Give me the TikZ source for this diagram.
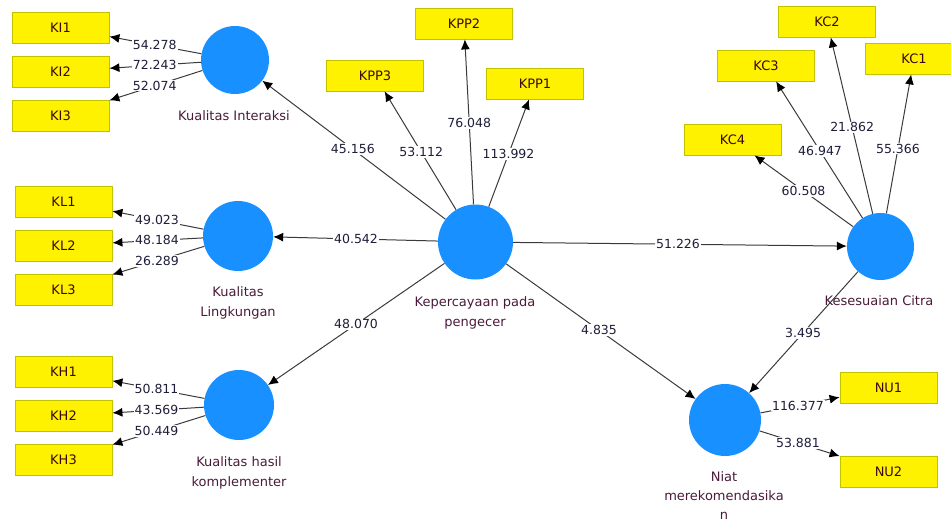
\documentclass[tikz,border=0pt]{standalone}
\usepackage{fontspec}
\setmainfont{DejaVu Sans}
\usetikzlibrary{arrows.meta}
\definecolor{cblue}{HTML}{1890FF}
\definecolor{boxline}{HTML}{C2C200}
\definecolor{boxtext}{HTML}{3A0A0A}
\definecolor{circtext}{HTML}{4A1A3A}
\definecolor{numc}{HTML}{1E1E3A}
\definecolor{linec}{HTML}{3A3A3A}
\begin{document}
\begin{tikzpicture}[x=1pt,y=-1pt,
  box/.style={draw=boxline, line width=0.8pt, fill=yellow, minimum width=97pt, minimum height=31pt, inner sep=0pt, text=boxtext, font=\fontsize{13}{15}\selectfont},
  lv/.style={circle, fill=cblue, inner sep=0pt},
  lab/.style={text=circtext, align=center, font=\fontsize{13}{20}\selectfont},
  conn/.style={draw=linec, line width=1pt, -{Latex[length=10pt,width=9pt,color=black]}},
  val/.style={fill=white, inner sep=1pt, text=numc, font=\fontsize{12.5}{14}\selectfont}
]
\useasboundingbox (0,0) rectangle (951,524);

% latent variables
\node[lv, minimum size=68pt] (ki) at (235,60) {};
\node[lv, minimum size=70pt] (kl) at (238,236) {};
\node[lv, minimum size=70pt] (kh) at (239,405) {};
\node[lv, minimum size=75pt] (kep) at (475.5,242) {};
\node[lv, minimum size=67pt] (ks) at (880.5,246.5) {};
\node[lv, minimum size=72pt] (niat) at (725,420) {};

% circle labels
\node[lab] (kilab) at (234,116) {Kualitas Interaksi};
\node[lab] (kllab) at (238,303) {Kualitas\\Lingkungan};
\node[lab] (khlab) at (239,473) {Kualitas hasil\\komplementer};
\node[lab] (keplab) at (475,313) {Kepercayaan pada\\pengecer};
\node[lab] (kslab) at (879,301) {Kesesuaian Citra};
\node[lab, font=\fontsize{13}{19}\selectfont] (niatlab) at (724,496) {Niat\\merekomendasika\\n};

% indicator boxes
\node[box] (ki1) at (60.5,27.5) {KI1};
\node[box] (ki2) at (60.5,71.5) {KI2};
\node[box] (ki3) at (60.5,116) {KI3};
\node[box] (kl1) at (63.5,201.5) {KL1};
\node[box] (kl2) at (63.5,245.5) {KL2};
\node[box] (kl3) at (63.5,289.5) {KL3};
\node[box] (kh1) at (63.5,371.5) {KH1};
\node[box] (kh2) at (63.5,416) {KH2};
\node[box] (kh3) at (63.5,460) {KH3};
\node[box] (kpp3) at (375,75.5) {KPP3};
\node[box] (kpp2) at (464,23.5) {KPP2};
\node[box] (kpp1) at (535,83.5) {KPP1};
\node[box] (kc4) at (732.5,139.5) {KC4};
\node[box] (kc3) at (766,65.5) {KC3};
\node[box] (kc2) at (827,21.5) {KC2};
\node[box] (kc1) at (914,58.5) {KC1};
\node[box] (nu1) at (888.5,387.5) {NU1};
\node[box] (nu2) at (888.5,471.5) {NU2};

% connectors
\foreach \a/\b in {ki/ki1,ki/ki2,ki/ki3,kl/kl1,kl/kl2,kl/kl3,kh/kh1,kh/kh2,kh/kh3,
  kep/kpp1,kep/kpp2,kep/kpp3,kep/ki,kep/kl,kep/kh,kep/ks,kep/niat,ks/niat,
  ks/kc1,ks/kc2,ks/kc3,ks/kc4,niat/nu1,niat/nu2}
  \draw[conn] (\a) -- (\b);

% values
\path (ki.center) -- node[val,pos=.46]{54.278} (ki1.center);
\path (ki.center) -- node[val,pos=.46]{72.243} (ki2.center);
\path (ki.center) -- node[val,pos=.46]{52.074} (ki3.center);
\path (kl.center) -- node[val,pos=.464]{49.023} (kl1.center);
\path (kl.center) -- node[val,pos=.464]{48.184} (kl2.center);
\path (kl.center) -- node[val,pos=.464]{26.289} (kl3.center);
\path (kh.center) -- node[val,pos=.47]{50.811} (kh1.center);
\path (kh.center) -- node[val,pos=.47]{43.569} (kh2.center);
\path (kh.center) -- node[val,pos=.47]{50.449} (kh3.center);
\path (kep.center) -- node[val,pos=.54]{53.112} (kpp3.center);
\path (kep.center) -- node[val,pos=.545]{76.048} (kpp2.center);
\path (kep.center) -- node[val,pos=.555]{113.992} (kpp1.center);
\path (kep.center) -- node[val,pos=.51]{45.156} (ki.center);
\path (kep.center) -- node[val,pos=.503]{40.542} (kl.center);
\path (kep.center) -- node[val,pos=.505]{48.070} (kh.center);
\path (kep.center) -- node[val,pos=.5]{51.226} (ks.center);
\path (kep.center) -- node[val,pos=.495]{4.835} (niat.center);
\path (ks.center) -- node[val,pos=.498]{3.495} (niat.center);
\path (ks.center) -- node[val,pos=.52]{60.508} (kc4.center);
\path (ks.center) -- node[val,pos=.528]{46.947} (kc3.center);
\path (ks.center) -- node[val,pos=.53]{21.862} (kc2.center);
\path (ks.center) -- node[val,pos=.52]{55.366} (kc1.center);
\path (niat.center) -- node[val,pos=.446]{116.377} (nu1.center);
\path (niat.center) -- node[val,pos=.446]{53.881} (nu2.center);
\end{tikzpicture}
\end{document}
